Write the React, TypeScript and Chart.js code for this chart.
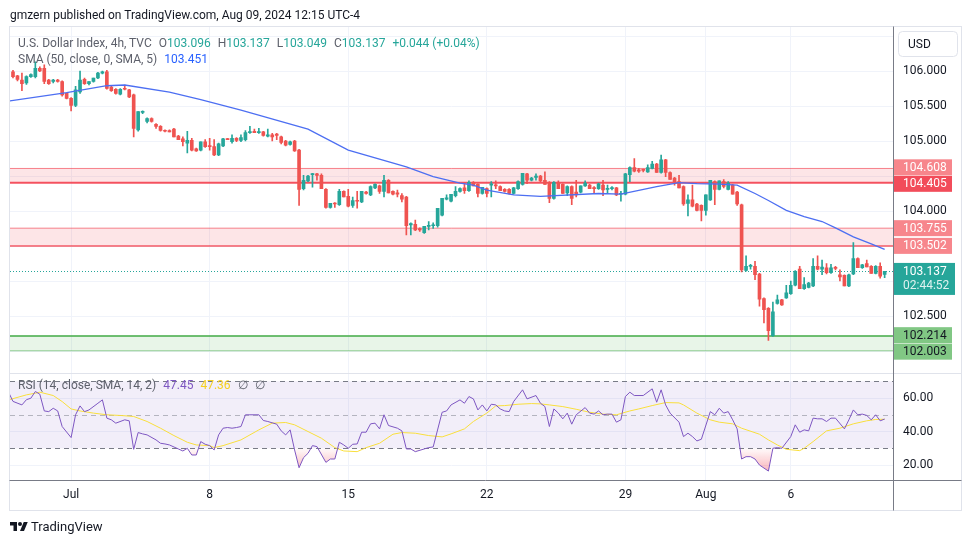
import React, { useEffect, useRef } from 'react';
import { Chart, registerables } from 'chart.js';

Chart.register(...registerables);

// ---------- DATA (4h candles, index 0 = Jun 27, index 195 = Aug 9 12:00) ----------
const opens = [
  105.99, 105.93, 105.87, 105.83, 105.92, 105.92, 106.04, 106.04, 105.87, 105.85,
  105.87, 105.85, 105.68, 105.61, 105.51, 105.70, 105.88, 105.82, 105.85, 105.90,
  105.97, 105.99, 105.77, 105.74, 105.67, 105.75, 105.73, 105.66, 105.16, 105.41,
  105.28, 105.32, 105.24, 105.21, 105.15, 105.15, 105.17, 105.07, 105.03, 104.97,
  105.01, 104.89, 104.87, 104.99, 104.93, 104.92, 104.80, 104.93, 105.03, 104.99,
  105.04, 105.01, 105.02, 105.12, 105.14, 105.12, 105.13, 105.07, 105.09, 105.10,
  105.06, 105.00, 104.95, 105.00, 104.87, 104.32, 104.43, 104.52, 104.53, 104.51,
  104.31, 104.05, 104.11, 104.09, 104.28, 104.21, 104.08, 104.15, 104.13, 104.27,
  104.23, 104.33, 104.36, 104.28, 104.44, 104.28, 104.26, 104.22, 104.20, 103.80,
  103.81, 103.75, 103.69, 103.78, 103.79, 103.79, 103.94, 104.17, 104.14, 104.22,
  104.28, 104.33, 104.29, 104.41, 104.38, 104.25, 104.32, 104.37, 104.37, 104.35,
  104.31, 104.31, 104.25, 104.32, 104.38, 104.53, 104.44, 104.48, 104.50, 104.44,
  104.41, 104.18, 104.40, 104.38, 104.26, 104.35, 104.27, 104.27, 104.36, 104.37,
  104.33, 104.32, 104.37, 104.31, 104.32, 104.33, 104.24, 104.24, 104.52, 104.62,
  104.59, 104.59, 104.56, 104.61, 104.67, 104.55, 104.73, 104.55, 104.47, 104.42,
  104.35, 104.11, 104.16, 104.10, 104.08, 104.01, 104.16, 104.42, 104.31, 104.42,
  104.31, 104.37, 104.27, 104.09, 103.15, 103.21, 103.21, 103.10, 102.75, 102.61,
  102.22, 102.68, 102.73, 102.76, 102.82, 102.94, 103.17, 102.89, 102.91, 102.93,
  103.21, 103.17, 103.19, 103.12, 103.19, 103.09, 103.08, 102.93, 103.10, 103.32,
  103.19, 103.25, 103.21, 103.11, 103.21, 103.096,
];
const highs = [
  106.01, 105.94, 105.97, 105.93, 105.96, 106.13, 106.06, 106.09, 105.88, 105.88,
  105.88, 105.86, 105.69, 105.62, 105.78, 106.00, 105.90, 105.84, 105.90, 105.98,
  106.00, 106.01, 105.78, 105.75, 105.75, 105.80, 105.74, 105.67, 105.18, 105.43,
  105.33, 105.33, 105.25, 105.22, 105.16, 105.16, 105.18, 105.08, 105.06, 105.14,
  105.04, 104.90, 104.99, 105.02, 105.04, 105.02, 104.97, 105.04, 105.04, 105.09,
  105.05, 105.09, 105.15, 105.21, 105.17, 105.18, 105.14, 105.17, 105.11, 105.11,
  105.07, 105.01, 105.00, 105.01, 104.88, 104.51, 104.51, 104.54, 104.54, 104.53,
  104.32, 104.11, 104.12, 104.31, 104.29, 104.31, 104.20, 104.28, 104.28, 104.28,
  104.36, 104.39, 104.37, 104.51, 104.45, 104.29, 104.30, 104.25, 104.21, 103.83,
  103.87, 103.76, 103.78, 103.85, 103.83, 104.04, 104.18, 104.23, 104.24, 104.35,
  104.33, 104.40, 104.43, 104.42, 104.39, 104.34, 104.33, 104.42, 104.43, 104.36,
  104.32, 104.32, 104.34, 104.43, 104.54, 104.54, 104.48, 104.53, 104.51, 104.56,
  104.42, 104.42, 104.43, 104.39, 104.36, 104.36, 104.44, 104.36, 104.43, 104.38,
  104.35, 104.40, 104.44, 104.37, 104.35, 104.34, 104.28, 104.54, 104.63, 104.75,
  104.61, 104.60, 104.66, 104.71, 104.68, 104.80, 104.74, 104.56, 104.48, 104.51,
  104.36, 104.23, 104.37, 104.11, 104.09, 104.23, 104.44, 104.43, 104.43, 104.45,
  104.42, 104.38, 104.28, 104.10, 103.36, 103.24, 103.28, 103.11, 102.76, 102.62,
  102.70, 102.80, 102.74, 102.94, 103.00, 103.15, 103.21, 103.05, 102.98, 103.32,
  103.36, 103.30, 103.25, 103.24, 103.21, 103.16, 103.09, 103.10, 103.55, 103.33,
  103.24, 103.30, 103.22, 103.22, 103.26, 103.137,
];
const lows = [
  105.90, 105.86, 105.72, 105.81, 105.91, 105.90, 105.99, 105.82, 105.81, 105.83,
  105.84, 105.64, 105.60, 105.43, 105.49, 105.68, 105.81, 105.80, 105.84, 105.89,
  105.96, 105.74, 105.71, 105.67, 105.66, 105.73, 105.62, 105.06, 105.14, 105.39,
  105.26, 105.27, 105.18, 105.14, 105.13, 105.13, 105.06, 105.02, 104.93, 104.83,
  104.86, 104.85, 104.86, 104.91, 104.87, 104.79, 104.79, 104.92, 105.02, 104.97,
  104.99, 104.99, 105.00, 105.11, 105.12, 105.11, 105.07, 105.06, 105.00, 105.02,
  104.96, 104.93, 104.94, 104.85, 104.08, 104.30, 104.42, 104.34, 104.44, 104.32,
  104.04, 104.04, 104.05, 104.08, 104.20, 104.06, 104.05, 104.04, 104.12, 104.24,
  104.22, 104.32, 104.25, 104.20, 104.26, 104.23, 104.20, 104.13, 103.66, 103.66,
  103.72, 103.71, 103.68, 103.73, 103.75, 103.77, 103.93, 104.16, 104.13, 104.20,
  104.27, 104.25, 104.28, 104.36, 104.20, 104.24, 104.20, 104.20, 104.32, 104.29,
  104.27, 104.24, 104.24, 104.31, 104.37, 104.39, 104.43, 104.44, 104.42, 104.38,
  104.12, 104.17, 104.32, 104.25, 104.22, 104.09, 104.20, 104.26, 104.35, 104.32,
  104.26, 104.31, 104.22, 104.25, 104.30, 104.22, 104.14, 104.23, 104.42, 104.56,
  104.55, 104.56, 104.55, 104.60, 104.55, 104.54, 104.49, 104.45, 104.37, 104.33,
  104.08, 103.93, 104.06, 104.00, 103.86, 103.94, 104.15, 104.09, 104.30, 104.33,
  104.30, 104.24, 104.08, 103.13, 103.14, 103.17, 103.02, 102.64, 102.40, 102.15,
  102.21, 102.67, 102.65, 102.75, 102.81, 102.93, 102.89, 102.88, 102.90, 102.92,
  103.16, 103.09, 103.10, 103.11, 103.16, 103.00, 102.93, 102.92, 103.09, 103.19,
  103.18, 103.20, 103.11, 103.10, 103.04, 103.049,
];
const closes = [
  105.92, 105.88, 105.82, 105.92, 105.95, 106.04, 106.00, 105.85, 105.82, 105.87,
  105.85, 105.66, 105.61, 105.51, 105.73, 105.87, 105.82, 105.85, 105.90, 105.97,
  105.99, 105.75, 105.72, 105.68, 105.74, 105.74, 105.63, 105.18, 105.42, 105.42,
  105.32, 105.28, 105.21, 105.15, 105.14, 105.13, 105.06, 105.02, 104.99, 105.01,
  104.87, 104.86, 104.99, 104.92, 104.92, 104.80, 104.96, 105.03, 105.02, 105.04,
  105.01, 105.05, 105.12, 105.13, 105.12, 105.13, 105.08, 105.09, 105.06, 105.08,
  104.98, 104.94, 104.99, 104.86, 104.31, 104.44, 104.50, 104.53, 104.51, 104.32,
  104.05, 104.11, 104.10, 104.28, 104.20, 104.07, 104.15, 104.14, 104.28, 104.25,
  104.35, 104.38, 104.28, 104.44, 104.26, 104.24, 104.24, 104.17, 103.79, 103.82,
  103.73, 103.73, 103.78, 103.79, 103.80, 104.04, 104.18, 104.19, 104.24, 104.28,
  104.32, 104.29, 104.41, 104.36, 104.25, 104.34, 104.25, 104.39, 104.36, 104.29,
  104.28, 104.25, 104.33, 104.42, 104.54, 104.44, 104.47, 104.50, 104.43, 104.38,
  104.18, 104.41, 104.32, 104.25, 104.35, 104.18, 104.23, 104.36, 104.40, 104.32,
  104.32, 104.39, 104.30, 104.32, 104.33, 104.23, 104.25, 104.53, 104.62, 104.57,
  104.57, 104.58, 104.62, 104.67, 104.55, 104.73, 104.55, 104.45, 104.42, 104.33,
  104.10, 104.16, 104.07, 104.01, 104.01, 104.23, 104.44, 104.31, 104.43, 104.35,
  104.40, 104.24, 104.10, 103.16, 103.21, 103.22, 103.09, 102.74, 102.59, 102.29,
  102.56, 102.73, 102.66, 102.83, 102.94, 103.14, 102.89, 102.95, 102.97, 103.21,
  103.17, 103.20, 103.12, 103.19, 103.18, 103.06, 102.93, 103.09, 103.32, 103.19,
  103.23, 103.20, 103.11, 103.21, 103.07, 103.137,
];

// SMA(50): [candle index, value]
const smaPoints = [
  [-1, 105.57], [12, 105.69], [21, 105.79], [25, 105.80], [35, 105.70], [42, 105.59],
  [51, 105.44], [66, 105.17], [75, 104.87], [88, 104.63], [94, 104.49], [100, 104.40],
  [103, 104.37], [106, 104.30], [112, 104.23], [118, 104.21], [131, 104.25], [136, 104.24],
  [144, 104.35], [149, 104.405], [153, 104.39], [158, 104.385], [162, 104.37], [166, 104.25],
  [169, 104.15], [173, 104.01], [177, 103.92], [181, 103.85], [184, 103.76], [188, 103.63],
  [192, 103.53], [195, 103.451],
];

// RSI(14): [candle index, value]
const rsiPoints = [
  [-1, 63.5], [0, 58.0], [2, 55.9], [3, 59.0], [4, 59.9], [5, 63.9], [6, 62.3], [7, 52.3], [8, 51.9],
  [9, 53.9], [10, 52.3], [11, 43.0], [13, 36.4], [14, 50.0], [15, 55.3], [16, 51.9], [17, 52.9],
  [19, 56.9], [20, 58.9], [21, 48.0], [22, 47.0], [23, 45.0], [25, 47.0], [26, 46.4], [27, 29.4],
  [28, 39.4], [29, 38.6], [30, 38.0], [32, 35.0], [33, 33.0], [34, 32.6], [35, 32.0], [37, 29.6],
  [38, 28.4], [39, 30.0], [40, 26.0], [41, 26.0], [42, 34.0], [43, 32.4], [44, 31.6], [45, 29.0],
  [46, 38.0], [47, 42.0], [48, 42.4], [49, 42.0], [50, 42.4], [51, 43.0], [52, 50.0], [53, 50.0],
  [55, 50.0], [56, 46.6], [57, 46.0], [59, 44.4], [60, 40.4], [61, 38.0], [62, 41.0], [63, 29.0],
  [64, 18.4], [65, 24.4], [66, 27.0], [67, 31.6], [68, 31.0], [70, 21.6], [71, 23.6], [72, 23.6],
  [73, 33.6], [74, 32.0], [75, 30.0], [76, 32.4], [77, 32.6], [78, 39.6], [79, 39.6], [80, 44.6],
  [81, 45.0], [82, 41.6], [83, 50.0], [84, 43.6], [86, 42.0], [87, 40.4], [88, 29.6], [89, 29.6],
  [90, 28.0], [92, 29.6], [93, 30.4], [94, 30.8], [96, 51.5], [97, 52.3], [98, 55.9], [100, 58.9],
  [101, 56.9], [102, 60.9], [103, 59.5], [104, 52.9], [105, 55.9], [106, 52.3], [107, 56.3],
  [108, 55.9], [109, 53.5], [110, 52.3], [111, 51.9], [112, 57.9], [114, 64.9], [115, 59.5],
  [117, 61.5], [118, 56.9], [119, 54.9], [120, 43.0], [121, 53.5], [122, 51.0], [123, 47.6],
  [124, 51.0], [125, 44.4], [126, 50.0], [128, 54.3], [129, 51.0], [130, 50.4], [131, 52.3],
  [132, 50.0], [133, 50.4], [134, 50.4], [135, 45.6], [136, 47.0], [137, 60.9], [138, 63.5],
  [139, 61.5], [141, 61.5], [143, 65.5], [144, 57.5], [145, 64.9], [146, 55.9], [147, 51.0],
  [149, 45.6], [150, 37.0], [151, 39.0], [152, 37.0], [153, 34.4], [154, 35.4], [156, 51.9],
  [157, 50.0], [158, 53.9], [159, 51.0], [160, 51.9], [161, 47.0], [162, 41.6], [163, 23.6],
  [164, 25.0], [165, 25.0], [166, 23.6], [167, 20.0], [169, 16.4], [170, 30.0], [171, 30.4],
  [172, 30.0], [174, 37.0], [175, 44.0], [176, 39.6], [177, 41.0], [178, 40.4], [179, 48.0],
  [180, 47.6], [181, 47.6], [182, 46.0], [183, 48.0], [184, 48.0], [186, 41.6], [187, 47.0],
  [188, 52.9], [189, 50.0], [190, 50.4], [191, 49.6], [192, 47.0], [193, 50.0], [194, 46.4],
  [195, 47.45],
];

// RSI-based SMA(14): [candle index, value]
const rsiSmaPoints = [
  [-1, 58.9], [3, 61.9], [5, 62.9], [6, 63.5], [9, 61.5], [11, 57.9], [13, 53.5], [15, 52.3],
  [18, 51.0], [21, 50.0], [24, 49.6], [27, 49.0], [30, 46.0], [33, 42.0], [36, 37.6], [39, 33.6],
  [41, 32.0], [44, 31.6], [45, 30.4], [47, 31.6], [51, 35.0], [55, 41.0], [58, 45.0], [61, 45.4],
  [63, 44.0], [66, 40.0], [69, 36.0], [72, 30.4], [74, 28.4], [77, 28.0], [79, 30.4], [82, 33.0],
  [85, 38.4], [87, 39.4], [90, 39.0], [93, 37.6], [96, 36.8], [98, 38.6], [101, 41.6], [103, 46.0],
  [106, 51.0], [108, 55.3], [110, 55.5], [113, 56.3], [116, 56.7], [118, 56.5], [120, 55.9],
  [123, 54.9], [126, 53.3], [129, 51.5], [132, 50.4], [135, 50.0], [138, 52.3], [140, 53.5],
  [143, 55.5], [146, 57.3], [149, 57.1], [150, 55.9], [153, 51.0], [156, 47.0], [158, 45.6],
  [161, 44.6], [163, 42.0], [167, 38.4], [169, 35.0], [171, 32.0], [173, 29.4], [176, 28.6],
  [177, 30.0], [179, 34.0], [182, 40.4], [185, 42.0], [188, 44.6], [191, 46.4], [193, 47.2],
  [195, 47.36],
];

const timeTickIdx = [13, 44, 75, 106, 137, 155, 174];
const timeTickLabels = ['Jul', '8', '15', '22', '29', 'Aug', '6'];
const priceGrid = [102, 102.5, 103, 103.5, 104, 104.5, 105, 105.5, 106, 106.5];
const priceLabelsShown = [102.5, 104, 105, 105.5, 106];
const rsiTicks = [20, 40, 60];
const rsiLevels = [70, 50, 30];
const zoneHigh = [104.608, 103.755, 102.214];
const zoneLow = [104.405, 103.502, 102.003];
const lastPrice = 103.137;
const countdown = '02:44:52';

// ---------- STYLE ----------
const FONT = 'Roboto, "Noto Sans", sans-serif';
const UP = '#26a69a';
const DOWN = '#ef5350';
const GRID = '#f0f3fa';
const TEXT = '#131722';
const zoneStyle = [
  { fill: 'rgba(242,54,69,0.13)', top: 'rgba(242,54,69,0.6)', bottom: 'rgba(242,54,69,0.85)', topW: 1, bottomW: 2, topBg: '#f7868c', bottomBg: '#f24c5a', fg: '#ffffff' },
  { fill: 'rgba(242,54,69,0.13)', top: 'rgba(242,54,69,0.6)', bottom: 'rgba(242,54,69,0.6)', topW: 1, bottomW: 2, topBg: '#f7868c', bottomBg: '#f7868c', fg: '#ffffff' },
  { fill: 'rgba(76,175,80,0.13)', top: 'rgba(76,175,80,0.8)', bottom: 'rgba(76,175,80,0.6)', topW: 2, bottomW: 1, topBg: '#81c784', bottomBg: '#81c784', fg: '#131722' },
];

const overlay = {
  id: 'tvOverlay',
  beforeDatasetsDraw(chart: any) {
    const { ctx, chartArea: a, scales } = chart;
    const py = scales.y;
    const ry = scales.rsi;
    ctx.save();
    // RSI band
    const y70 = ry.getPixelForValue(rsiLevels[0]);
    const y50 = ry.getPixelForValue(rsiLevels[1]);
    const y30 = ry.getPixelForValue(rsiLevels[2]);
    ctx.fillStyle = 'rgba(126,87,194,0.1)';
    ctx.fillRect(a.left, y70, a.right - a.left, y30 - y70);
    ctx.lineWidth = 1;
    ctx.setLineDash([5, 4]);
    ctx.strokeStyle = '#787b86';
    for (const yy of [y70, y30]) {
      ctx.beginPath();
      ctx.moveTo(a.left, Math.round(yy) + 0.5);
      ctx.lineTo(a.right, Math.round(yy) + 0.5);
      ctx.stroke();
    }
    ctx.strokeStyle = 'rgba(120,123,134,0.5)';
    ctx.beginPath();
    ctx.moveTo(a.left, Math.round(y50) + 0.5);
    ctx.lineTo(a.right, Math.round(y50) + 0.5);
    ctx.stroke();
    ctx.setLineDash([]);
    // zones
    for (let i = 0; i < zoneHigh.length; i++) {
      const st = zoneStyle[i];
      const yt = py.getPixelForValue(zoneHigh[i]);
      const yb = py.getPixelForValue(zoneLow[i]);
      ctx.fillStyle = st.fill;
      ctx.fillRect(a.left, yt, a.right - a.left, yb - yt);
      ctx.strokeStyle = st.top;
      ctx.lineWidth = st.topW;
      ctx.beginPath();
      ctx.moveTo(a.left, yt);
      ctx.lineTo(a.right, yt);
      ctx.stroke();
      ctx.strokeStyle = st.bottom;
      ctx.lineWidth = st.bottomW;
      ctx.beginPath();
      ctx.moveTo(a.left, yb);
      ctx.lineTo(a.right, yb);
      ctx.stroke();
    }
    // last price dotted line
    const yl = Math.round(py.getPixelForValue(lastPrice)) + 0.5;
    ctx.strokeStyle = UP;
    ctx.lineWidth = 1;
    ctx.setLineDash([1, 2]);
    ctx.beginPath();
    ctx.moveTo(a.left, yl);
    ctx.lineTo(a.right, yl);
    ctx.stroke();
    ctx.restore();
  },
  afterDraw(chart: any) {
    const { ctx, chartArea: a, scales } = chart;
    const py = scales.y;
    ctx.save();
    // frame and separators
    ctx.lineWidth = 1;
    ctx.strokeStyle = '#e0e3eb';
    ctx.strokeRect(9.5, 26.5, 952, 484);
    const sep = Math.round(py.bottom) + 0.5;
    ctx.beginPath();
    ctx.moveTo(9.5, sep);
    ctx.lineTo(961.5, sep);
    ctx.stroke();
    ctx.strokeStyle = '#787b86';
    ctx.beginPath();
    ctx.moveTo(9.5, Math.round(a.bottom) + 0.5);
    ctx.lineTo(961.5, Math.round(a.bottom) + 0.5);
    ctx.moveTo(Math.round(a.right) + 0.5, 26.5);
    ctx.lineTo(Math.round(a.right) + 0.5, 510.5);
    ctx.stroke();

    // USD box
    const bx = a.right + 5, by = 31.5, bw = 59, bh = 25;
    ctx.fillStyle = '#ffffff';
    ctx.strokeStyle = '#e0e3eb';
    ctx.beginPath();
    (ctx as any).roundRect(bx + 0.5, by, bw, bh, 4);
    ctx.fill();
    ctx.stroke();
    ctx.fillStyle = TEXT;
    ctx.font = `12px ${FONT}`;
    ctx.textBaseline = 'middle';
    ctx.textAlign = 'left';
    ctx.fillText('USD', bx + 10, by + bh / 2 + 0.5);

    // price labels
    const labels: any[] = [];
    for (let i = 0; i < zoneHigh.length; i++) {
      const st = zoneStyle[i];
      labels.push({ y: py.getPixelForValue(zoneHigh[i]), text: zoneHigh[i].toFixed(3), bg: st.topBg, fg: st.fg });
      labels.push({ y: py.getPixelForValue(zoneLow[i]), text: zoneLow[i].toFixed(3), bg: st.bottomBg, fg: st.fg });
    }
    labels.sort((p, q) => p.y - q.y);
    const h = 16.5;
    for (let i = 1; i < labels.length; i++) {
      const gap = labels[i].y - labels[i - 1].y;
      if (gap < h) {
        const s = (h - gap) / 2;
        labels[i - 1].y -= s;
        labels[i].y += s;
      }
    }
    const lx = Math.round(a.right) + 1;
    for (const l of labels) {
      ctx.fillStyle = l.bg;
      ctx.fillRect(lx, l.y - 8, 58, 16);
      ctx.fillStyle = l.fg;
      ctx.fillText(l.text, lx + 9, l.y + 0.5);
    }
    // last price label
    const yl = py.getPixelForValue(lastPrice);
    ctx.fillStyle = UP;
    ctx.fillRect(lx, yl - 8.5, 61, 32);
    ctx.fillStyle = '#ffffff';
    ctx.fillText(lastPrice.toFixed(3), lx + 9, yl + 0.5);
    ctx.fillStyle = 'rgba(255,255,255,0.85)';
    ctx.fillText(countdown, lx + 9, yl + 15);
    ctx.restore();
  },
};

export default function App() {
  const canvasRef = useRef<HTMLCanvasElement | null>(null);

  useEffect(() => {
    const canvas = canvasRef.current;
    if (!canvas) return;
    const wick: any[] = [];
    const body: any[] = [];
    const colors: string[] = [];
    for (let i = 0; i < closes.length; i++) {
      const o = opens[i];
      const c = closes[i];
      wick.push({ x: i, y: [Math.min(lows[i], o, c), Math.max(highs[i], o, c)] });
      body.push({ x: i, y: [o, c] });
      colors.push(c >= o ? UP : DOWN);
    }
    const toXY = (arr: number[][]) => arr.map(([x, y]) => ({ x, y }));
    const font = { family: FONT, size: 12 };

    const chart = new Chart(canvas, {
      type: 'bar',
      data: {
        datasets: [
          {
            type: 'line', data: toXY(smaPoints), yAxisID: 'y', borderColor: '#4d6ff2',
            borderWidth: 1.3, pointRadius: 0, tension: 0, order: 0,
          } as any,
          {
            type: 'bar', data: wick, yAxisID: 'y', backgroundColor: colors, barThickness: 1,
            grouped: false, order: 2,
          } as any,
          {
            type: 'bar', data: body, yAxisID: 'y', backgroundColor: colors, barThickness: 3,
            grouped: false, minBarLength: 1, order: 1,
          } as any,
          {
            type: 'line', data: toXY(rsiPoints), yAxisID: 'rsi', borderColor: '#7e57c2',
            borderWidth: 1, pointRadius: 0, tension: 0, order: 0,
            fill: { target: { value: 30 }, above: 'rgba(0,0,0,0)', below: 'rgba(242,54,69,0.2)' },
          } as any,
          {
            type: 'line', data: toXY(rsiSmaPoints), yAxisID: 'rsi', borderColor: '#f9df3c',
            borderWidth: 1, pointRadius: 0, tension: 0, order: 0,
          } as any,
        ],
      },
      options: {
        animation: false,
        responsive: false,
        events: [],
        layout: { padding: { left: 10, top: 27, right: 8, bottom: 35 } },
        plugins: { legend: { display: false }, tooltip: { enabled: false } },
        scales: {
          x: {
            type: 'linear', min: -0.67, max: 196.87, offset: false,
            grid: { color: GRID, drawTicks: false, offset: false },
            border: { display: false },
            afterBuildTicks: (s: any) => { s.ticks = timeTickIdx.map((v) => ({ value: v })); },
            ticks: {
              autoSkip: false, maxRotation: 0, padding: 8, color: TEXT, font,
              callback: (v: any) => { const k = timeTickIdx.indexOf(v); return k >= 0 ? timeTickLabels[k] : ''; },
            },
            afterFit: (s: any) => { s.height = 30; },
          } as any,
          y: {
            type: 'linear', position: 'right', stack: 'pane', stackWeight: 345.5,
            min: 101.693, max: 106.629,
            grid: { color: GRID, drawTicks: false },
            border: { display: false },
            afterBuildTicks: (s: any) => { s.ticks = priceGrid.map((v) => ({ value: v })); },
            ticks: {
              padding: 10, color: TEXT, font,
              callback: (v: any) => (priceLabelsShown.includes(v) ? Number(v).toFixed(3) : ''),
            },
            afterFit: (s: any) => { s.width = 69; },
          } as any,
          rsi: {
            type: 'linear', position: 'right', stack: 'pane', stackWeight: 107.5,
            min: 11.07, max: 75.25,
            grid: { color: GRID, drawTicks: false },
            border: { display: false },
            afterBuildTicks: (s: any) => { s.ticks = rsiTicks.map((v) => ({ value: v })); },
            ticks: { padding: 10, color: TEXT, font, callback: (v: any) => Number(v).toFixed(2) },
            afterFit: (s: any) => { s.width = 69; },
          } as any,
        },
      },
      plugins: [overlay as any],
    });

    // gradient for the oversold fill
    const ry: any = chart.scales.rsi;
    const ctx = canvas.getContext('2d');
    if (ctx && ry) {
      const g = ctx.createLinearGradient(0, ry.getPixelForValue(30), 0, ry.getPixelForValue(15));
      g.addColorStop(0, 'rgba(242,54,69,0.02)');
      g.addColorStop(1, 'rgba(242,54,69,0.4)');
      (chart.data.datasets[3] as any).fill.below = g;
      chart.update();
    }
    return () => chart.destroy();
  }, []);

  const gray = '#5d606b';
  const teal = '#26a69a';
  const sp = { marginLeft: 7 };
  return (
    <div style={{ position: 'absolute', left: 0, top: 0, width: 970, height: 545, background: '#fff', fontFamily: FONT, overflow: 'hidden' }}>
      <canvas ref={canvasRef} width={970} height={545} style={{ position: 'absolute', left: 0, top: 0 }} />
      <div style={{ position: 'absolute', left: 10, top: 7, fontSize: 12, lineHeight: '16px', color: TEXT, whiteSpace: 'nowrap' }}>
        gmzern published on TradingView.com, Aug 09, 2024 12:15 UTC-4
      </div>
      <div style={{ position: 'absolute', left: 18, top: 35, fontSize: 12, lineHeight: '16px', color: gray, whiteSpace: 'nowrap' }}>
        <span>U.S. Dollar Index, 4h, TVC</span>
        <span style={sp}>O<span style={{ color: teal }}>103.096</span></span>
        <span style={sp}>H<span style={{ color: teal }}>103.137</span></span>
        <span style={sp}>L<span style={{ color: teal }}>103.049</span></span>
        <span style={sp}>C<span style={{ color: teal }}>103.137</span></span>
        <span style={{ ...sp, color: teal }}>+0.044 (+0.04%)</span>
      </div>
      <div style={{ position: 'absolute', left: 18, top: 51, fontSize: 12, lineHeight: '16px', color: gray, whiteSpace: 'nowrap' }}>
        <span>SMA (50, close, 0, SMA, 5)</span>
        <span style={{ ...sp, color: '#2962ff' }}>103.451</span>
      </div>
      <div style={{ position: 'absolute', left: 18, top: 377, fontSize: 12, lineHeight: '16px', color: gray, whiteSpace: 'nowrap' }}>
        <span>RSI (14, close, SMA, 14, 2)</span>
        <span style={{ ...sp, color: '#7e57c2' }}>47.45</span>
        <span style={{ ...sp, color: '#f5d020' }}>47.36</span>
        <span style={sp}>∅</span>
        <span style={sp}>∅</span>
      </div>
      <div style={{ position: 'absolute', left: 10, top: 519, display: 'flex', alignItems: 'center', color: TEXT }}>
        <svg width="18" height="14" viewBox="0 0 36 28">
          <path d="M14 22H7V11H0V4h14v18zM28 22h-8l7.5-18h8L28 22z" fill={TEXT} />
          <circle cx="20" cy="8" r="4" fill={TEXT} />
        </svg>
        <span style={{ marginLeft: 3, fontSize: 13, lineHeight: '16px' }}>TradingView</span>
      </div>
    </div>
  );
}
